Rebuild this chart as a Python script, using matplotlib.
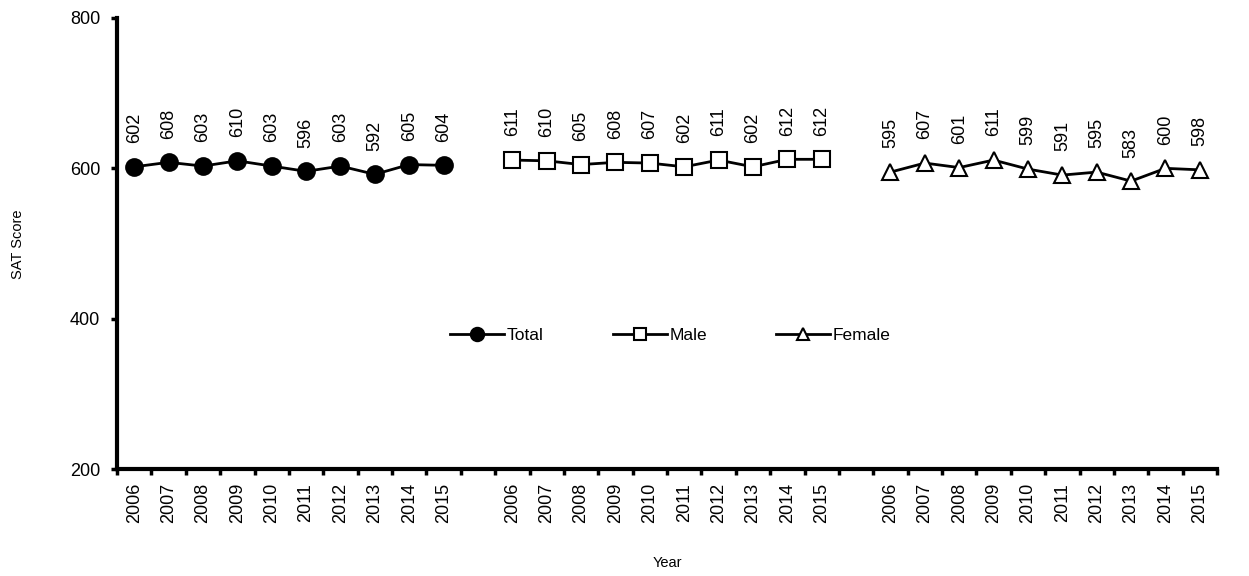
import matplotlib.pyplot as plt
import numpy as np

plt.rcParams['font.family'] = ['Liberation Sans', 'DejaVu Sans']

years = ['2006', '2007', '2008', '2009', '2010', '2011', '2012', '2013', '2014', '2015']
total = [602, 608, 603, 610, 603, 596, 603, 592, 605, 604]
male = [611, 610, 605, 608, 607, 602, 611, 602, 612, 612]
female = [595, 607, 601, 611, 599, 591, 595, 583, 600, 598]

series = [('Total', total, 'o', 'black'), ('Male', male, 's', 'white'), ('Female', female, '^', 'white')]

fig = plt.figure(figsize=(12.49, 5.76), dpi=100)
ax = fig.add_axes([117 / 1249, 1 - 469 / 576, 1100 / 1249, 451 / 576])

n = len(years)
labels = []
for g, (name, vals, mk, fc) in enumerate(series):
    start = g * (n + 1)
    x = np.arange(start, start + n) + 0.5
    ms = 12 if mk == 'o' else 11
    ax.plot(x, vals, color='black', lw=2, marker=mk, markersize=ms,
            markerfacecolor=fc, markeredgecolor='black', markeredgewidth=1.5, label=name)
    for xi, v in zip(x, vals):
        ax.annotate(str(v), (xi, v), xytext=(0, 17), textcoords='offset points',
                    rotation=90, ha='center', va='bottom', fontsize=13)
    labels += years
    if g < 2:
        labels.append('')

ncat = 3 * n + 2
ax.set_xlim(0, ncat)
ax.set_ylim(200, 800)
ax.set_yticks([200, 400, 600, 800])
ax.set_xticks(np.arange(ncat + 1))
ax.set_xticklabels([])
ax.set_xticks(np.arange(ncat) + 0.5, minor=True)
ax.set_xticklabels(labels, minor=True, rotation=90, fontsize=13)
ax.tick_params(axis='x', which='minor', length=0, pad=10)
ax.tick_params(axis='x', which='major', length=4, width=2.5, direction='out')
ax.tick_params(axis='y', length=4, width=2.5, labelsize=13, pad=8)

for s in ['top', 'right']:
    ax.spines[s].set_visible(False)
for s in ['left', 'bottom']:
    ax.spines[s].set_linewidth(3)

fig.text(18 / 1249, 1 - 244 / 576, 'SAT Score', rotation=90, ha='center', va='center', fontsize=10.5)
fig.text(667 / 1249, 1 - 563 / 576, 'Year', ha='center', va='center', fontsize=10.5)

ax.legend(loc='center', bbox_to_anchor=(0.503, 0.297), ncol=3, frameon=False,
          fontsize=12.5, columnspacing=4.0, handlelength=3.1, handletextpad=0.15, markerscale=0.8)

fig.savefig('out.png', dpi=100)
